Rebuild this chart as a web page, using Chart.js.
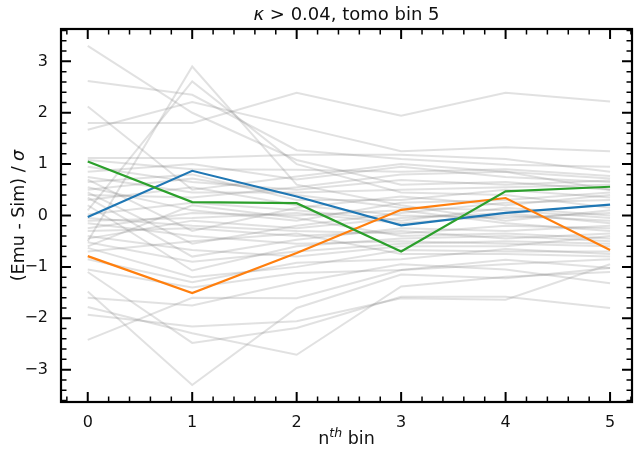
<!DOCTYPE html>
<html>
<head>
<meta charset="utf-8">
<script src="https://cdn.jsdelivr.net/npm/chart.js@4/dist/chart.umd.min.js"></script>
<style>
  html, body { margin: 0; padding: 0; background: #fff; }
  canvas { display: block; }
</style>
</head>
<body>
<canvas id="c" width="636" height="454"></canvas>
<script>
// n-th bin positions along the x axis
const bins = [0, 1, 2, 3, 4, 5];
const xTickValues = [0, 1, 2, 3, 4, 5];
const yTickValues = [-3, -2, -1, 0, 1, 2, 3];

// highlighted realisations
const blueRun   = [-0.03, 0.87, 0.37, -0.19, 0.05, 0.21];
const orangeRun = [-0.79, -1.51, -0.73, 0.11, 0.34, -0.67];
const greenRun  = [1.05, 0.26, 0.24, -0.70, 0.47, 0.56];

// remaining realisations, drawn faint grey
const simRuns = [
  [3.30, 2.00, 1.08, 0.60, 0.65, 0.50],
  [2.62, 2.35, 1.27, 1.10, 0.99, 0.95],
  [1.80, 1.80, 2.39, 1.94, 2.39, 2.22],
  [1.67, 2.21, 1.73, 1.25, 1.33, 1.25],
  [2.12, 0.50, 0.76, 1.00, 0.85, 0.72],
  [-0.50, 2.90, 0.60, 0.20, -0.10, 0.10],
  [0.10, 2.61, 1.00, 0.45, 0.40, 0.15],
  [1.12, 1.12, 1.18, 1.18, 1.10, 0.85],
  [1.08, 0.90, 0.89, 0.85, 0.90, 0.77],
  [0.95, 0.65, 0.50, 0.69, 0.60, 0.68],
  [0.85, 1.00, 0.70, 0.95, 0.75, 0.65],
  [0.75, 0.45, 0.45, 0.50, 0.55, 0.60],
  [0.70, -0.30, 0.15, 0.37, 0.20, 0.40],
  [0.65, 0.80, 0.30, 0.30, 0.50, 0.35],
  [0.55, 0.10, -0.10, 0.25, 0.30, 0.45],
  [0.50, 0.72, 0.40, 0.15, 0.10, -0.05],
  [0.45, -0.55, -0.20, 0.05, 0.25, 0.30],
  [0.40, 0.35, 0.55, 0.80, 0.85, 0.50],
  [0.35, -0.80, -0.47, -0.25, -0.30, -0.20],
  [0.30, 0.55, 0.20, 0.00, -0.05, 0.05],
  [0.20, -1.07, -0.60, -0.45, -0.40, -0.50],
  [0.02, 0.25, 0.10, -0.10, 0.15, 0.00],
  [-0.05, -0.20, -0.30, -0.35, -0.20, -0.25],
  [-0.10, -0.05, 0.05, -0.15, 0.00, -0.10],
  [-0.15, -0.40, -0.55, -0.50, -0.55, -0.60],
  [-0.25, 0.05, 0.00, 0.10, -0.15, -0.30],
  [-0.30, -0.25, -0.40, -0.30, -0.45, -0.35],
  [-0.40, -0.67, -0.80, -0.60, -0.60, -0.40],
  [-0.45, -0.10, -0.25, -0.05, 0.05, -0.15],
  [-0.52, -0.90, -0.70, -0.55, -0.50, -0.55],
  [-0.60, 0.20, -0.05, -0.40, -0.35, -0.45],
  [-0.63, -1.20, -1.00, -0.67, -0.70, -0.70],
  [-0.70, -0.50, -0.35, -0.75, -0.75, -0.80],
  [-0.85, -1.30, -0.92, -0.85, -0.65, -0.75],
  [-1.05, -1.40, -1.12, -1.06, -0.95, -0.85],
  [-1.10, -2.48, -2.19, -1.58, -1.58, -1.80],
  [-1.48, -3.30, -1.80, -1.15, -1.22, -1.02],
  [-1.60, -1.75, -1.30, -0.95, -1.05, -1.32],
  [-1.78, -2.29, -2.71, -1.38, -1.19, -1.10],
  [-1.93, -2.16, -2.06, -1.61, -1.64, -0.95],
  [-2.42, -1.60, -1.61, -1.06, -0.86, -1.02]
];

const FONT = "'DejaVu Sans', sans-serif";
const TEXT = '#111';

const toPoints = run => run.map((v, i) => ({ x: bins[i], y: v }));

const datasets = [
  { data: toPoints(greenRun),  borderColor: '#2ca02c', borderWidth: 2.2, order: 0 },
  { data: toPoints(orangeRun), borderColor: '#ff7f0e', borderWidth: 2.2, order: 1 },
  { data: toPoints(blueRun),   borderColor: '#1f77b4', borderWidth: 2.2, order: 2 },
  ...simRuns.map(run => ({
    data: toPoints(run),
    borderColor: 'rgba(128,128,128,0.24)',
    borderWidth: 2,
    order: 3
  }))
];

// text drawn in runs so parts can be italic or raised
function drawRuns(ctx, runs, cx, cy) {
  let total = 0;
  runs.forEach(r => {
    ctx.font = `${r.italic ? 'italic ' : ''}${r.size}px ${FONT}`;
    r.w = ctx.measureText(r.t).width;
    total += r.w;
  });
  let xPos = cx - total / 2;
  runs.forEach(r => {
    ctx.font = `${r.italic ? 'italic ' : ''}${r.size}px ${FONT}`;
    ctx.fillText(r.t, xPos, cy - (r.rise || 0));
    xPos += r.w;
  });
}

const frame = {
  id: 'frame',
  afterDraw(chart) {
    const { ctx, chartArea: a, scales: { x, y } } = chart;
    ctx.save();
    ctx.strokeStyle = '#000';
    ctx.lineCap = 'butt';

    const majorLen = 10, minorLen = 5.5;
    const tick = (v, scale, horizontal) => {
      const major = Math.abs(v - Math.round(v)) < 1e-6;
      const len = major ? majorLen : minorLen;
      ctx.lineWidth = major ? 2 : 1.5;
      const p = scale.getPixelForValue(v);
      ctx.beginPath();
      if (horizontal) {
        ctx.moveTo(p, a.bottom); ctx.lineTo(p, a.bottom - len);
        ctx.moveTo(p, a.top);    ctx.lineTo(p, a.top + len);
      } else {
        ctx.moveTo(a.left, p);  ctx.lineTo(a.left + len, p);
        ctx.moveTo(a.right, p); ctx.lineTo(a.right - len, p);
      }
      ctx.stroke();
    };
    for (let i = Math.ceil(x.min / 0.2); i * 0.2 <= x.max; i++) tick(i * 0.2, x, true);
    for (let i = Math.ceil(y.min / 0.2); i * 0.2 <= y.max; i++) tick(i * 0.2, y, false);

    ctx.lineWidth = 2.2;
    ctx.strokeRect(a.left, a.top, a.right - a.left, a.bottom - a.top);

    ctx.fillStyle = TEXT;
    ctx.textBaseline = 'alphabetic';
    const cx = (a.left + a.right) / 2;
    drawRuns(ctx, [
      { t: 'κ', size: 18, italic: true },
      { t: ' > 0.04, tomo bin 5', size: 18 }
    ], cx, 20);

    drawRuns(ctx, [
      { t: 'n', size: 17.5 },
      { t: 'th', size: 12.5, italic: true, rise: 7 },
      { t: ' bin', size: 17.5 }
    ], cx, 444);

    ctx.save();
    ctx.translate(24, (a.top + a.bottom) / 2);
    ctx.rotate(-Math.PI / 2);
    drawRuns(ctx, [
      { t: '(Emu - Sim) / ', size: 17.5 },
      { t: 'σ', size: 17.5, italic: true }
    ], 0, 0);
    ctx.restore();
    ctx.restore();
  }
};

new Chart(document.getElementById('c'), {
  type: 'line',
  data: { datasets },
  options: {
    responsive: false,
    animation: false,
    devicePixelRatio: 1,
    layout: { padding: { left: 0, right: 4, top: 29, bottom: 0 } },
    elements: { point: { radius: 0 }, line: { tension: 0 } },
    plugins: { legend: { display: false }, tooltip: { enabled: false }, title: { display: false } },
    scales: {
      x: {
        type: 'linear',
        min: -0.256, max: 5.21,
        grid: { display: false },
        border: { display: false },
        afterBuildTicks: s => { s.ticks = xTickValues.map(v => ({ value: v })); },
        afterFit: s => { s.height = 52; },
        ticks: {
          padding: 3,
          color: TEXT,
          font: { family: FONT, size: 16 },
          callback: v => String(v)
        }
      },
      y: {
        type: 'linear',
        min: -3.63, max: 3.63,
        grid: { display: false },
        border: { display: false },
        afterBuildTicks: s => { s.ticks = yTickValues.map(v => ({ value: v })); },
        afterFit: s => { s.width = 61; },
        ticks: {
          padding: 5,
          color: TEXT,
          font: { family: FONT, size: 16 },
          callback: v => (v < 0 ? '\u2212' + Math.abs(v) : String(v))
        }
      }
    }
  },
  plugins: [frame]
});
</script>
</body>
</html>
